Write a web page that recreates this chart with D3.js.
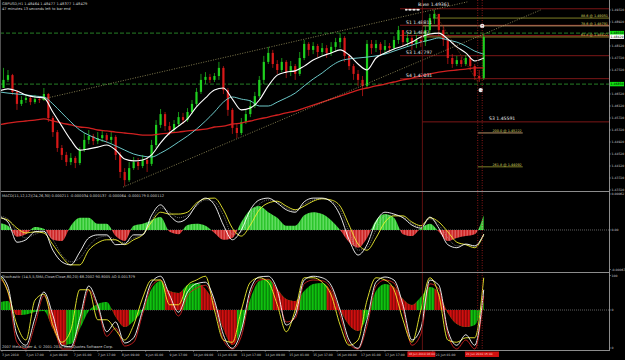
<!DOCTYPE html>
<html>
<head>
<meta charset="utf-8">
<script src="https://cdn.jsdelivr.net/npm/d3@7"></script>
<style>
body { margin: 0; background: #000; }
svg { display: block; }
text { font-family: "DejaVu Sans", sans-serif; }
.ax { font-size: 3.1px; fill: #c8c8c8; }
.tt { font-size: 3.6px; fill: #d0d0d0; }
.pv { font-size: 4.6px; fill: #e8e8e8; }
.fb { font-size: 3.4px; fill: #d8d860; }
</style>
</head>
<body>
<div id="chart"></div>
<script>
// ---------------- data ----------------
// 3-hour candles, open = previous close
var open0 = 1.4672;
var closes = [1.4699, 1.4715, 1.4659, 1.4619, 1.4632, 1.4639, 1.4625, 1.4635, 1.4632, 1.4652,
    1.4572, 1.4525, 1.4472, 1.4449, 1.4425, 1.4439, 1.4422, 1.4465, 1.4499, 1.4512,
    1.4495, 1.4505, 1.4515, 1.4499, 1.4509, 1.4449, 1.4392, 1.4365, 1.4405, 1.4425,
    1.4412, 1.4432, 1.4419, 1.4482, 1.4549, 1.4585, 1.4545, 1.4532, 1.4552, 1.4575,
    1.4565, 1.4592, 1.4619, 1.4659, 1.4699, 1.4709, 1.4699, 1.4712, 1.4739, 1.4665,
    1.4599, 1.4539, 1.4522, 1.4559, 1.4585, 1.4612, 1.4645, 1.4699, 1.4759, 1.4789,
    1.4752, 1.4732, 1.4759, 1.4725, 1.4745, 1.4719, 1.4772, 1.4819, 1.4799, 1.4812,
    1.4792, 1.4805, 1.4789, 1.4809, 1.4825, 1.4839, 1.4779, 1.4745, 1.4719, 1.4699,
    1.4679, 1.4819, 1.4805, 1.4819, 1.4799, 1.4812, 1.4805, 1.4832, 1.4865, 1.4825,
    1.4839, 1.4819, 1.4832, 1.4825, 1.4865, 1.4905, 1.4919, 1.4865, 1.4832, 1.4772,
    1.4752, 1.4765, 1.4752, 1.4772, 1.4745, 1.4712, 1.4705, 1.4842];
var highs = [1.4739, 1.4732, 1.4719, 1.4665, 1.4645, 1.4652, 1.4645, 1.4649, 1.4645, 1.4672,
    1.4655, 1.4579, 1.4532, 1.4482, 1.4459, 1.4455, 1.4445, 1.4475, 1.4522, 1.4532,
    1.4519, 1.4525, 1.4529, 1.4522, 1.4525, 1.4515, 1.4459, 1.4405, 1.4425, 1.4442,
    1.4439, 1.4449, 1.4442, 1.4499, 1.4565, 1.4602, 1.4592, 1.4559, 1.4565, 1.4592,
    1.4589, 1.4605, 1.4632, 1.4672, 1.4719, 1.4725, 1.4719, 1.4722, 1.4759, 1.4745,
    1.4672, 1.4605, 1.4552, 1.4572, 1.4599, 1.4632, 1.4659, 1.4712, 1.4779, 1.4809,
    1.4799, 1.4765, 1.4772, 1.4765, 1.4762, 1.4752, 1.4792, 1.4832, 1.4825, 1.4825,
    1.4819, 1.4822, 1.4815, 1.4825, 1.4839, 1.4855, 1.4845, 1.4785, 1.4752, 1.4732,
    1.4712, 1.4832, 1.4832, 1.4832, 1.4825, 1.4832, 1.4822, 1.4845, 1.4879, 1.4865,
    1.4852, 1.4845, 1.4849, 1.4845, 1.4879, 1.4919, 1.4932, 1.4912, 1.4879, 1.4839,
    1.4785, 1.4779, 1.4775, 1.4782, 1.4779, 1.4752, 1.4732, 1.4852];
var lows = [1.4682, 1.4692, 1.4649, 1.4599, 1.4612, 1.4622, 1.4615, 1.4619, 1.4622, 1.4629,
    1.4559, 1.4509, 1.4459, 1.4432, 1.4412, 1.4415, 1.4405, 1.4415, 1.4459, 1.4485,
    1.4482, 1.4485, 1.4492, 1.4489, 1.4485, 1.4432, 1.4372, 1.4345, 1.4359, 1.4399,
    1.4399, 1.4405, 1.4392, 1.4412, 1.4472, 1.4539, 1.4529, 1.4515, 1.4522, 1.4545,
    1.4552, 1.4559, 1.4585, 1.4612, 1.4652, 1.4685, 1.4689, 1.4692, 1.4699, 1.4652,
    1.4579, 1.4519, 1.4505, 1.4515, 1.4552, 1.4575, 1.4605, 1.4639, 1.4685, 1.4752,
    1.4739, 1.4719, 1.4725, 1.4705, 1.4712, 1.4699, 1.4712, 1.4765, 1.4779, 1.4785,
    1.4775, 1.4779, 1.4772, 1.4779, 1.4792, 1.4805, 1.4759, 1.4732, 1.4699, 1.4679,
    1.4645, 1.4672, 1.4785, 1.4792, 1.4779, 1.4785, 1.4789, 1.4799, 1.4819, 1.4812,
    1.4812, 1.4799, 1.4805, 1.4809, 1.4812, 1.4852, 1.4885, 1.4845, 1.4812, 1.4752,
    1.4739, 1.4745, 1.4742, 1.4745, 1.4732, 1.4699, 1.4692, 1.4699];

// moving averages, one point every 6 hours
var maFast = [1.4662, 1.4669, 1.4662, 1.4649, 1.4642, 1.4639, 1.4592, 1.4545, 1.4499, 1.4465,
    1.4469, 1.4475, 1.4482, 1.4465, 1.4435, 1.4429, 1.4432, 1.4449, 1.4489, 1.4522,
    1.4545, 1.4569, 1.4609, 1.4639, 1.4665, 1.4672, 1.4635, 1.4599, 1.4605, 1.4632,
    1.4679, 1.4715, 1.4725, 1.4729, 1.4745, 1.4765, 1.4779, 1.4789, 1.4799, 1.4782,
    1.4752, 1.4732, 1.4772, 1.4789, 1.4802, 1.4812, 1.4825, 1.4842, 1.4852, 1.4855,
    1.4835, 1.4809, 1.4789, 1.4762, 1.4772];
var maMid = [1.4659, 1.4655, 1.4652, 1.4649, 1.4645, 1.4642, 1.4619, 1.4589, 1.4559, 1.4532,
    1.4515, 1.4502, 1.4492, 1.4479, 1.4465, 1.4452, 1.4445, 1.4442, 1.4455, 1.4472,
    1.4492, 1.4512, 1.4535, 1.4562, 1.4592, 1.4625, 1.4642, 1.4635, 1.4629, 1.4612,
    1.4612, 1.4625, 1.4639, 1.4655, 1.4679, 1.4702, 1.4722, 1.4745, 1.4762, 1.4769,
    1.4772, 1.4775, 1.4779, 1.4785, 1.4795, 1.4805, 1.4815, 1.4825, 1.4832, 1.4839,
    1.4832, 1.4825, 1.4812, 1.4795, 1.4785];
var maSlow = [1.4549, 1.4555, 1.4559, 1.4562, 1.4565, 1.4569, 1.4562, 1.4555, 1.4549, 1.4542,
    1.4539, 1.4532, 1.4529, 1.4525, 1.4522, 1.4519, 1.4515, 1.4515, 1.4519, 1.4522,
    1.4525, 1.4529, 1.4532, 1.4535, 1.4542, 1.4545, 1.4552, 1.4555, 1.4562, 1.4569,
    1.4575, 1.4582, 1.4589, 1.4595, 1.4605, 1.4615, 1.4625, 1.4635, 1.4645, 1.4655,
    1.4665, 1.4672, 1.4679, 1.4685, 1.4692, 1.4699, 1.4705, 1.4712, 1.4719, 1.4725,
    1.4729, 1.4732, 1.4735, 1.4739, 1.4739];

// MACD panel
var macdHist = [0.00011, 0.00007, -0.00011, -0.00007, 0.00005, 0.00002, -0.00016, -0.00018, 0.00007, 0.00020,
    0.00020, 0.00010, 0.00010, -0.00010, -0.00018, 0.00007, 0.00010, 0.00016, 0.00021, -0.00003,
    -0.00007, 0.00008, 0.00010, 0.00007, -0.00005, -0.00016, -0.00013, 0.00013, 0.00033, 0.00039,
    0.00029, 0.00020, 0.00007, 0.00007, 0.00024, 0.00029, 0.00026, 0.00016, 0, -0.00020,
    -0.00029, -0.00013, 0.00016, 0.00026, 0.00020, -0.00007, -0.00010, 0.00003, 0.00010, -0.00003,
    -0.00018, -0.00013, -0.00010, -0.00007, 0.00024];
var macdMain = [0.00021, 0.00013, -0.00020, -0.00016, -0.00003, -0.00002, -0.00033, -0.00052, -0.00057, -0.00036,
    -0.00013, -0.00008, -0.00008, -0.00024, -0.00023, -0.00008, -0.00008, 0.00024, 0.00041, 0.00024,
    0.00013, 0.00020, 0.00041, 0.00052, 0.00041, 0.00008, -0.00016, 0, 0.00033, 0.00049,
    0.00052, 0.00044, 0.00033, 0.00029, 0.00046, 0.00052, 0.00052, 0.00046, 0.00024, -0.00016,
    -0.00041, -0.00024, 0.00013, 0.00029, 0.00026, 0.00020, 0.00008, 0.00003, 0.00021, 0.00003,
    -0.00024, -0.00029, -0.00023, -0.00026, -0.00007];
var macdSignal = [0.00020, 0.00016, 0.00003, -0.00005, -0.00003, -0.00005, -0.00024, -0.00044, -0.00057, -0.00057,
    -0.00033, -0.00021, -0.00016, -0.00016, -0.00024, -0.00016, -0.00008, 0.00013, 0.00029, 0.00026,
    0.00026, 0.00029, 0.00044, 0.00051, 0.00052, 0.00033, 0.00003, -0.00010, 0.00008, 0.00033,
    0.00044, 0.00047, 0.00039, 0.00033, 0.00039, 0.00047, 0.00051, 0.00049, 0.00039, 0.00008,
    -0.00023, -0.00033, -0.00013, 0.00013, 0.00023, 0.00023, 0.00013, 0.00007, 0.00020, 0.00013,
    -0.00003, -0.00020, -0.00024, -0.00029, -0.00007];
var macdSlow = [0.00023, 0.00018, -0.00003, -0.00013, -0.00007, -0.00003, -0.00016, -0.00041, -0.00052, -0.00046,
    -0.00026, -0.00013, -0.00010, -0.00016, -0.00021, -0.00013, -0.00007, 0.00016, 0.00036, 0.00029,
    0.00020, 0.00024, 0.00039, 0.00049, 0.00046, 0.00024, -0.00007, -0.00003, 0.00023, 0.00042,
    0.00049, 0.00046, 0.00036, 0.00031, 0.00042, 0.00049, 0.00051, 0.00047, 0.00033, -0.00003,
    -0.00033, -0.00029, 0, 0.00023, 0.00024, 0.00021, 0.00011, 0.00005, 0.00018, 0.00008,
    -0.00013, -0.00026, -0.00024, -0.00026, -0.00010];

// Stochastic + AO panel
var aoValues = [0.00120, 0.00142, -0.00079, -0.00070, -0.00032, -0.00016, -0.00300, -0.00553, -0.00537, -0.00300,
    -0.00016, 0.00095, 0.00126, -0.00110, -0.00269, -0.00174, 0, 0.00332, 0.00458, 0.00300,
    0.00269, 0.00395, 0.00427, 0.00332, 0.00095, -0.00300, -0.00553, -0.00300, 0.00174, 0.00458,
    0.00490, 0.00332, 0.00174, 0.00142, 0.00300, 0.00411, 0.00427, 0.00300, 0, -0.00237,
    -0.00332, -0.00110, 0.00300, 0.00411, 0.00363, 0.00174, 0.00079, 0.00205, 0.00363, 0.00269,
    -0.00047, -0.00221, -0.00269, -0.00237, 0.00142];
var stochMain = [99, 83, 19, 5, 41, 76, 45, 5, 3, 41,
    84, 59, 23, 36, 8, 15, 52, 89, 97, 72,
    49, 76, 87, 89, 65, 19, 1, 25, 79, 96,
    97, 79, 32, 45, 92, 97, 95, 85, 52, 12,
    1, 39, 89, 96, 92, 59, 12, 28, 92, 85,
    25, 5, 19, 5, 79];
var stochSignal = [100, 76, 32, 12, 65, 73, 32, 9, 25, 79,
    79, 39, 39, 25, 12, 32, 68, 92, 92, 59,
    59, 85, 92, 97, 52, 12, 9, 52, 89, 95,
    89, 59, 23, 52, 95, 95, 89, 72, 32, 5,
    12, 65, 95, 92, 79, 39, 9, 52, 95, 72,
    12, 9, 15, 15, 95];
var stochSlow = [95, 76, 9, 0, 32, 71, 39, 0, 0, 32,
    79, 55, 17, 28, 4, 9, 47, 84, 92, 68,
    44, 71, 81, 85, 60, 12, 0, 17, 73, 92,
    93, 75, 36, 41, 87, 92, 91, 81, 45, 7,
    0, 31, 84, 92, 88, 53, 5, 20, 87, 80,
    20, 0, 12, 0, 71];

// axis labels
var priceTicks = [1.49320, 1.48920, 1.48520, 1.48120, 1.47720, 1.47320, 1.46920, 1.46520,
    1.46120, 1.45720, 1.45320, 1.44920, 1.44520, 1.44120, 1.43720, 1.43320];
var timeLabels = ['3 Jun 2010', '3 Jun 17:00', '4 Jun 09:00', '7 Jun 01:00', '7 Jun 17:00',
    '8 Jun 09:00', '9 Jun 01:00', '9 Jun 17:00', '10 Jun 09:00', '11 Jun 01:00', '11 Jun 17:00',
    '14 Jun 09:00', '15 Jun 01:00', '15 Jun 17:00', '16 Jun 09:00', '17 Jun 01:00', '17 Jun 17:00',
    '', '21 Jun 01:00'];

// levels drawn on the price chart
var greenLevels = [1.48550, 1.46850];
var pivotNames = ['Base', 'S1', 'S2', 'S3', 'S4', 'S3'];
var pivotValues = [1.49361, 1.48811, 1.48470, 1.47797, 1.47031, 1.45591];
var fibNames = ['88.6', '78.6', '61.8', '200.0', '261.8'];
var fibValues = [1.49051, 1.48791, 1.48422, 1.45222, 1.44092];
var channelUpper = [[27, 1.4635], [311, 1.4959]];
var channelLower = [[81, 1.4342], [360, 1.4932]];
var fibSwing = [[288, 1.4932], [318, 1.4692]];
var markers = [[321, 1.4879], [320, 1.4665]];
var vLines = [281, 318, 321];
var vTags = ['18 Jun 2010 06:00', '21 Jun 2010 15:00'];
var lastPrice = 1.48429;

// ---------------- layout ----------------
var W = 625, H = 360, axisX = 609;

var svg = d3.select('#chart').append('svg')
    .attr('width', W)
    .attr('height', H)
    .style('background', '#000');

var defs = svg.append('defs');

// hourly time axis, one label every 16 bars
var x = d3.scaleLinear().domain([0, 322]).range([2, 2 + 322 * 1.496]);
var candleX = i => x(3 * i + 1);
var indX = j => x(6 * j - 2);

var y = d3.scaleLinear().domain([1.43320, 1.49320]).range([190, 10]);
var yM = d3.scaleLinear().domain([-0.00067, 0.00062]).range([271, 192]);
var yS = d3.scaleLinear().domain([0, 100]).range([349, 274]);
var yA = d3.scaleLinear().domain([-0.006, 0.006]).range([348, 272]);

function clip(id, x0, y0, w, h) {
    defs.append('clipPath').attr('id', id)
        .append('rect').attr('x', x0).attr('y', y0).attr('width', w).attr('height', h);
}
clip('mainClip', 0, 0, axisX, 190);
clip('macdClip', 0, 192, axisX, 79);
clip('stoClip', 0, 273, axisX, 77);
clip('macdUp', 0, 192, axisX, yM(0) - 192);
clip('macdDn', 0, yM(0), axisX, 271 - yM(0));

function stripe(id, base, line) {
    var p = defs.append('pattern').attr('id', id)
        .attr('patternUnits', 'userSpaceOnUse')
        .attr('width', 1.5).attr('height', 4);
    p.append('rect').attr('width', 1.5).attr('height', 4).attr('fill', base);
    p.append('rect').attr('x', 1).attr('width', 0.5).attr('height', 4).attr('fill', line);
}
stripe('macdG', '#20c020', '#90f090');
stripe('macdR', '#c81818', '#f09090');
stripe('aoG', '#10d010', '#045004');
stripe('aoR', '#e01010', '#500404');

///////////////////////////////////////////////////////////////
// main price panel
///////////////////////////////////////////////////////////////

var main = svg.append('g').attr('clip-path', 'url(#mainClip)');

// green dashed levels
main.selectAll('.glevel')
    .data(greenLevels)
    .enter().append('line')
    .attr('x1', 0).attr('x2', axisX)
    .attr('y1', d => y(d)).attr('y2', d => y(d))
    .attr('stroke', '#2e9e2e').attr('stroke-width', 0.8)
    .attr('stroke-dasharray', '4,2');

// pivot lines
main.selectAll('.pivot')
    .data(pivotValues)
    .enter().append('line')
    .attr('x1', (d, i) => i === 5 ? x(281) : 400).attr('x2', axisX)
    .attr('y1', d => y(d)).attr('y2', d => y(d))
    .attr('stroke', '#8a1a1a').attr('stroke-width', 0.9);

// fibonacci levels
var fibColors = ['#8c8c2a', '#c8a070', '#b09030', '#c8a070', '#8c8c2a'];
fibValues.forEach((v, i) => {
    var x1 = i < 3 ? (i === 0 ? x(288) : x(281)) : x(318);
    var x2 = i < 3 ? axisX : x(318) + 45;
    main.append('line')
        .attr('x1', x1).attr('x2', x2)
        .attr('y1', y(v)).attr('y2', y(v))
        .attr('stroke', fibColors[i]).attr('stroke-width', 0.9);
    main.append('text')
        .attr('class', 'fb')
        .attr('x', x2 - 1).attr('y', y(v) - 0.8)
        .attr('text-anchor', 'end')
        .text(fibNames[i] + ' @ ' + v.toFixed(5));
});

// candles
var candles = closes.map((c, i) => ({
    o: i === 0 ? open0 : closes[i - 1], h: highs[i], l: lows[i], c: c, i: i
}));

main.selectAll('.wick')
    .data(candles)
    .enter().append('line')
    .attr('x1', d => candleX(d.i)).attr('x2', d => candleX(d.i))
    .attr('y1', d => y(d.h)).attr('y2', d => y(d.l))
    .attr('stroke', d => d.c >= d.o ? '#1fd01f' : '#d81818')
    .attr('stroke-width', 0.7);

main.selectAll('.body')
    .data(candles)
    .enter().append('rect')
    .attr('x', d => candleX(d.i) - 1.1)
    .attr('width', 2.2)
    .attr('y', d => y(Math.max(d.o, d.c)))
    .attr('height', d => Math.max(1, Math.abs(y(d.o) - y(d.c))))
    .attr('fill', d => d.c >= d.o ? '#1fd01f' : '#d81818');

// moving averages
var maLine = d3.line().x((d, j) => indX(j)).y(d => y(d)).curve(d3.curveMonotoneX);
main.append('path').datum(maSlow).attr('d', maLine)
    .attr('fill', 'none').attr('stroke', '#d02020').attr('stroke-width', 1.3);
main.append('path').datum(maMid).attr('d', maLine)
    .attr('fill', 'none').attr('stroke', '#6cc8c8').attr('stroke-width', 1);
main.append('path').datum(maFast).attr('d', maLine)
    .attr('fill', 'none').attr('stroke', '#ffffff').attr('stroke-width', 1.1);

// channel lines
[channelUpper, channelLower].forEach(c => {
    main.append('line')
        .attr('x1', x(c[0][0])).attr('y1', y(c[0][1]))
        .attr('x2', x(c[1][0])).attr('y2', y(c[1][1]))
        .attr('stroke', '#b8b070').attr('stroke-width', 0.7)
        .attr('stroke-dasharray', '1,1.5');
});
main.append('line')
    .attr('x1', x(fibSwing[0][0])).attr('y1', y(fibSwing[0][1]))
    .attr('x2', x(fibSwing[1][0])).attr('y2', y(fibSwing[1][1]))
    .attr('stroke', '#a05020').attr('stroke-width', 0.6)
    .attr('stroke-dasharray', '1,1');

// pivot labels
pivotValues.forEach((v, i) => {
    var lx = i === 0 ? 418 : (i === 5 ? 489 : 406);
    main.append('text').attr('class', 'pv')
        .attr('x', lx).attr('y', y(v) - (i === 0 ? 3 : 1.5))
        .text(pivotNames[i] + ' ' + v.toFixed(i === 2 ? 4 : 5));
});
main.append('line')
    .attr('x1', 406).attr('x2', 420)
    .attr('y1', y(pivotValues[0]) + 1).attr('y2', y(pivotValues[0]) + 1)
    .attr('stroke', '#ffffff').attr('stroke-width', 0.8);
[406, 410, 414, 418].forEach(px => {
    main.append('circle').attr('cx', px).attr('cy', y(pivotValues[0]) + 1).attr('r', 0.9).attr('fill', '#fff');
});

// markers
main.selectAll('.mark')
    .data(markers)
    .enter().append('circle')
    .attr('cx', d => x(d[0])).attr('cy', d => y(d[1])).attr('r', 2.2)
    .attr('fill', '#e8e8e8');

// header text
svg.append('text').attr('class', 'tt').attr('x', 2).attr('y', 5)
    .text('GBPUSD,H1  1.48464 1.48477 1.48377 1.48429');
svg.append('text').attr('class', 'tt').attr('x', 2).attr('y', 9.5)
    .text('47 minutes 13 seconds left to bar end');

///////////////////////////////////////////////////////////////
// MACD panel
///////////////////////////////////////////////////////////////

var macd = svg.append('g').attr('clip-path', 'url(#macdClip)');
var histArea = d3.area().x((d, j) => indX(j)).y0(yM(0)).y1(d => yM(d)).curve(d3.curveMonotoneX);

macd.append('line')
    .attr('x1', 0).attr('x2', axisX).attr('y1', yM(0)).attr('y2', yM(0))
    .attr('stroke', '#a0a0a0').attr('stroke-width', 0.6).attr('stroke-dasharray', '1,1');
macd.append('g').attr('clip-path', 'url(#macdUp)')
    .append('path').datum(macdHist).attr('d', histArea).attr('fill', 'url(#macdG)');
macd.append('g').attr('clip-path', 'url(#macdDn)')
    .append('path').datum(macdHist).attr('d', histArea).attr('fill', 'url(#macdR)');

var macdLine = d3.line().x((d, j) => indX(j)).y(d => yM(d)).curve(d3.curveMonotoneX);
macd.append('path').datum(macdSlow).attr('d', macdLine)
    .attr('fill', 'none').attr('stroke', '#b0b0b0').attr('stroke-width', 0.6).attr('stroke-dasharray', '1,1');
macd.append('path').datum(macdSignal).attr('d', macdLine)
    .attr('fill', 'none').attr('stroke', '#f0f030').attr('stroke-width', 0.9);
macd.append('path').datum(macdMain).attr('d', macdLine)
    .attr('fill', 'none').attr('stroke', '#ffffff').attr('stroke-width', 0.9);

svg.append('text').attr('class', 'tt').attr('x', 2).attr('y', 197)
    .text('MACD(11,12,12)(24,26,30) 0.000211 -0.000034 0.000137 -0.000064 -0.000179 0.000112');

///////////////////////////////////////////////////////////////
// Stochastic + AO panel
///////////////////////////////////////////////////////////////

var sto = svg.append('g').attr('clip-path', 'url(#stoClip)');
var aoArea = d3.area().x((d, j) => indX(j)).y0(yA(0)).y1(d => yA(d)).curve(d3.curveMonotoneX);

// falling bars are red
var fall = defs.append('clipPath').attr('id', 'aoFall');
aoValues.forEach((v, j) => {
    if (j > 0 && v < aoValues[j - 1]) {
        var a = (indX(j - 1) + indX(j)) / 2;
        var b = j < aoValues.length - 1 ? (indX(j) + indX(j + 1)) / 2 : indX(j) + 2;
        fall.append('rect').attr('x', a).attr('y', 272).attr('width', b - a).attr('height', 78);
    }
});

sto.append('line')
    .attr('x1', 0).attr('x2', axisX).attr('y1', yA(0)).attr('y2', yA(0))
    .attr('stroke', '#a0a0a0').attr('stroke-width', 0.6).attr('stroke-dasharray', '1,1');
sto.append('path').datum(aoValues).attr('d', aoArea).attr('fill', 'url(#aoG)');
sto.append('g').attr('clip-path', 'url(#aoFall)')
    .append('path').datum(aoValues).attr('d', aoArea).attr('fill', 'url(#aoR)');

var stoLine = d3.line().x((d, j) => indX(j)).y(d => yS(d)).curve(d3.curveMonotoneX);
sto.append('path').datum(stochSlow).attr('d', stoLine)
    .attr('fill', 'none').attr('stroke', '#d02020').attr('stroke-width', 0.9);
sto.append('path').datum(stochSignal).attr('d', stoLine)
    .attr('fill', 'none').attr('stroke', '#f0f030').attr('stroke-width', 0.9);
sto.append('path').datum(stochMain).attr('d', stoLine)
    .attr('fill', 'none').attr('stroke', '#ffffff').attr('stroke-width', 0.9);

svg.append('text').attr('class', 'tt').attr('x', 2).attr('y', 278)
    .text('Stochastic (14,5,5,SMA,Close/Close,80,20) 68.2002 90.8005   AO 0.001379');
svg.append('text').attr('class', 'tt').attr('x', 2).attr('y', 348)
    .text('2007 MetaTrader 4, \u00a9 2001-2010 MetaQuotes Software Corp.');

///////////////////////////////////////////////////////////////
// frames, vertical lines, axes
///////////////////////////////////////////////////////////////

svg.selectAll('.vline')
    .data(vLines)
    .enter().append('line')
    .attr('x1', d => x(d)).attr('x2', d => x(d))
    .attr('y1', 0).attr('y2', 350)
    .attr('stroke', (d, i) => i === 0 ? '#7a1414' : '#b02020')
    .attr('stroke-width', 0.8)
    .attr('stroke-dasharray', (d, i) => i === 0 ? null : '1,1.5');

[191, 272, 350].forEach(py => {
    svg.append('line').attr('x1', 0).attr('x2', axisX).attr('y1', py + 0.5).attr('y2', py + 0.5)
        .attr('stroke', '#8c8c8c').attr('stroke-width', 1);
});
svg.append('line').attr('x1', axisX + 0.5).attr('x2', axisX + 0.5).attr('y1', 0).attr('y2', 351)
    .attr('stroke', '#8c8c8c').attr('stroke-width', 1);
svg.append('line').attr('x1', 0.5).attr('x2', 0.5).attr('y1', 0).attr('y2', 351)
    .attr('stroke', '#505050').attr('stroke-width', 1);

function rightLabel(py, txt) {
    svg.append('line').attr('x1', axisX).attr('x2', axisX + 2).attr('y1', py).attr('y2', py)
        .attr('stroke', '#a0a0a0').attr('stroke-width', 0.5);
    svg.append('text').attr('class', 'ax').attr('x', axisX + 2.5).attr('y', py + 1.1).text(txt);
}

// price ticks hidden behind the price boxes are skipped
var boxes = greenLevels.concat([lastPrice]);
priceTicks.forEach(v => {
    if (boxes.every(b => Math.abs(y(b) - y(v)) > 4)) rightLabel(y(v), v.toFixed(5));
});
rightLabel(yM(0.00062) + 2, '0.00062');
rightLabel(yM(0), '0.00');
rightLabel(yM(-0.00067) - 1.5, '-0.00067');
rightLabel(yS(100) + 1.5, '100');
rightLabel(yA(0), '0');
rightLabel(yS(0) - 1, '0');

// price boxes on the axis
function priceBox(v, fill) {
    svg.append('rect').attr('x', axisX + 1).attr('y', y(v) - 2.2).attr('width', 14).attr('height', 4.4)
        .attr('fill', fill);
    svg.append('text').attr('x', axisX + 1.6).attr('y', y(v) + 1.1)
        .style('font-size', '3.1px').attr('fill', '#000').text(v.toFixed(5));
}
greenLevels.forEach(v => priceBox(v, '#10e010'));
priceBox(lastPrice, '#ffffff');

// time axis
svg.selectAll('.tick')
    .data(timeLabels)
    .enter().append('line')
    .attr('x1', (d, k) => x(16 * k)).attr('x2', (d, k) => x(16 * k))
    .attr('y1', 350).attr('y2', 352)
    .attr('stroke', '#a0a0a0').attr('stroke-width', 0.5);

svg.selectAll('.tlabel')
    .data(timeLabels)
    .enter().append('text')
    .attr('class', 'ax')
    .attr('x', (d, k) => x(16 * k) + (k === 18 ? 3 : 0))
    .attr('y', 355.5)
    .text(d => d);

// labels of the vertical lines
[x(vLines[0]), (x(vLines[1]) + x(vLines[2])) / 2].forEach((cx, i) => {
    svg.append('rect').attr('x', cx - 15).attr('y', 351.5).attr('width', i === 0 ? 28 : 34).attr('height', 5.5)
        .attr('fill', '#d01010');
    svg.append('text').attr('x', cx - 14).attr('y', 355.4)
        .style('font-size', '2.9px').style('fill', '#ffd0d0').text(vTags[i]);
});
</script>
</body>
</html>
